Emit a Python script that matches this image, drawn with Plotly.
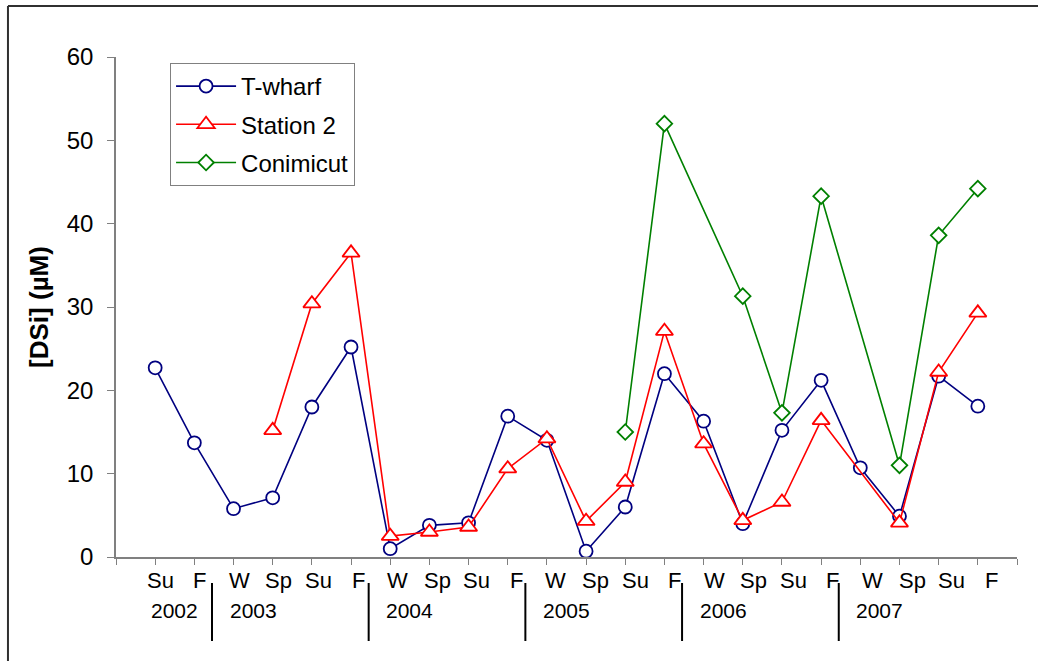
import plotly.graph_objects as go

# Sampling seasons (Su=summer, F=fall, W=winter, Sp=spring), 2002-2007
seasons = ["Su", "F",
           "W", "Sp", "Su", "F",
           "W", "Sp", "Su", "F",
           "W", "Sp", "Su", "F",
           "W", "Sp", "Su", "F",
           "W", "Sp", "Su", "F"]
years = ["2002", "2003", "2004", "2005", "2006", "2007"]
year_first_index = [1, 3, 7, 11, 15, 19]

# Dissolved silica, µM
t_wharf = [22.7, 13.7,
           5.8, 7.1, 18.0, 25.2,
           1.0, 3.8, 4.1, 16.9,
           14.0, 0.7, 6.0, 22.0,
           16.3, 4.0, 15.2, 21.2,
           10.7, 4.9, 21.7, 18.1]
station_2 = [None, None,
             None, 15.2, 30.4, 36.5,
             2.5, 3.0, 3.6, 10.6,
             14.2, 4.3, 9.0, 27.1,
             13.6, 4.4, 6.6, 16.4,
             None, 4.1, 22.2, 29.3]
conimicut = [None, None,
             None, None, None, None,
             None, None, None, None,
             None, None, 15.0, 52.0,
             None, 31.3, 17.3, 43.3,
             None, 11.0, 38.6, 44.2]

x = list(range(1, len(seasons) + 1))
FONT = "Liberation Sans, Arial, sans-serif"

fig = go.Figure()
series = [
    ("T-wharf", t_wharf, "#000080", "circle", 13),
    ("Station 2", station_2, "#FF0000", "triangle-up", 15),
    ("Conimicut", conimicut, "#008000", "diamond", 12),
]
for name, vals, color, symbol, size in series:
    fig.add_trace(go.Scatter(
        x=x, y=vals, name=name, legendgroup=name,
        mode="lines+markers", connectgaps=True,
        line=dict(color=color, width=1.6),
        marker=dict(symbol=symbol, size=size, color="white",
                    line=dict(color=color, width=1.8)),
    ))

# Season labels under each tick (spread slightly wider than the ticks)
annotations = []
for i, (xi, s) in enumerate(zip(x, seasons)):
    annotations.append(dict(x=xi, y=-0.046, xref="x", yref="paper", text=s,
                            showarrow=False, xshift=5 + 0.4 * i, yanchor="middle",
                            font=dict(family=FONT, size=22, color="black")))
# Year labels below the first season of each year
for xi, yr in zip(year_first_index, years):
    annotations.append(dict(x=xi - 0.15, y=-0.106, xref="x", yref="paper", text=yr,
                            showarrow=False, xanchor="left", yanchor="middle",
                            font=dict(family=FONT, size=21, color="black")))

shapes = []
# Year separators
for xi in year_first_index[1:]:
    shapes.append(dict(type="line", xref="x", yref="paper",
                       x0=xi - 0.55, x1=xi - 0.55, y0=-0.052, y1=-0.168,
                       line=dict(color="black", width=2)))
# Chart frame (left and top edges)
shapes.append(dict(type="line", xref="paper", yref="paper",
                   x0=-0.1199, x1=-0.1199, y0=1.102, y1=-0.25,
                   line=dict(color="#303030", width=2)))
shapes.append(dict(type="line", xref="paper", yref="paper",
                   x0=-0.1199, x1=1.1, y0=1.102, y1=1.102,
                   line=dict(color="#303030", width=2)))

fig.update_layout(
    width=1038, height=661,
    margin=dict(l=116, r=21, t=57, b=104),
    paper_bgcolor="white", plot_bgcolor="white",
    font=dict(family=FONT, size=20, color="black"),
    showlegend=True,
    legend=dict(x=0.06, y=0.988, xanchor="left", yanchor="top",
                bordercolor="#808080", borderwidth=1, bgcolor="white",
                font=dict(family=FONT, size=24, color="black"),
                itemwidth=60, tracegroupgap=4, traceorder="grouped"),
    xaxis=dict(range=[0, 23], tickvals=list(range(0, 24)), showticklabels=False,
               ticks="outside", ticklen=6, tickcolor="#808080",
               showline=True, linecolor="#808080", linewidth=1.5,
               showgrid=False, zeroline=False),
    yaxis=dict(range=[0, 60], tickvals=[0, 10, 20, 30, 40, 50, 60],
               ticks="outside", ticklen=7, tickcolor="#808080",
               ticklabelstandoff=9,
               tickfont=dict(family=FONT, size=24, color="black"),
               showline=True, linecolor="#808080", linewidth=1.5,
               showgrid=False, zeroline=False,
               title=dict(text="<b>[DSi] (µM)</b>", standoff=11,
                          font=dict(family=FONT, size=26, color="black"))),
    annotations=annotations,
    shapes=shapes,
)

fig.write_html("out.html")
